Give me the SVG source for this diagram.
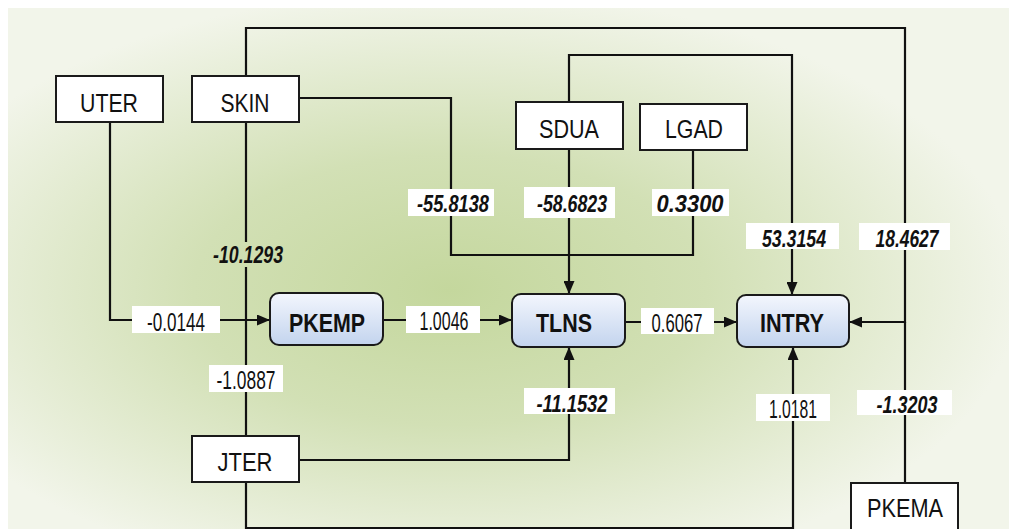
<svg xmlns="http://www.w3.org/2000/svg" width="1009" height="529" viewBox="0 0 1009 529">
<style>
.bx{fill:#fff;stroke:#1a1a1a;stroke-width:2}
.rn{fill:url(#ng);stroke:#1a1a1a;stroke-width:2}
.nt{font-family:"Liberation Sans",Arial,sans-serif;font-size:26px;fill:#111;text-anchor:middle}
.bt{font-family:"Liberation Sans",Arial,sans-serif;font-size:26px;font-weight:bold;fill:#111;text-anchor:middle}
.ln{fill:none;stroke:#111;stroke-width:2.2}
.lb{fill:#fff}
.pl{font-family:"Liberation Sans",Arial,sans-serif;font-size:25px;fill:#111;text-anchor:middle}
.il{font-family:"Liberation Sans",Arial,sans-serif;font-size:24px;font-weight:bold;font-style:italic;fill:#111;text-anchor:middle}
</style>
<defs>
<radialGradient id="bg" gradientUnits="userSpaceOnUse" cx="450" cy="290" r="300" gradientTransform="translate(450 290) scale(1.9 1) translate(-450 -290)">
<stop offset="0" stop-color="#c4d79d"/>
<stop offset="0.45" stop-color="#d2e0b5"/>
<stop offset="1" stop-color="#f2f5ea"/>
</radialGradient>
<linearGradient id="ng" x1="0" y1="0" x2="0" y2="1">
<stop offset="0" stop-color="#f3f6fd"/>
<stop offset="1" stop-color="#c3d4ee"/>
</linearGradient>
<marker id="ar" viewBox="0 0 13 11" refX="13" refY="5.5" markerWidth="13" markerHeight="11" markerUnits="userSpaceOnUse" orient="auto">
<path d="M0 0L13 5.5L0 11z" fill="#111"/>
</marker>
</defs>
<rect x="0" y="0" width="1009" height="529" fill="#fff"/>
<rect x="8" y="8" width="1001" height="521" fill="url(#bg)"/>
<g id="connectors">
<path class="ln" d="M246 76V28H905V322H849" marker-end="url(#ar)"/>
<path class="ln" d="M905 483V322"/>
<path class="ln" d="M569 102V55H792V295" marker-end="url(#ar)"/>
<path class="ln" d="M299 98H451V255H569"/>
<path class="ln" d="M693 150V255H569"/>
<path class="ln" d="M569 149V294" marker-end="url(#ar)"/>
<path class="ln" d="M110 122V320H270" marker-end="url(#ar)"/>
<path class="ln" d="M246 122V242M246 267V320"/>
<path class="ln" d="M246 436V320"/>
<path class="ln" d="M383 320H512" marker-end="url(#ar)"/>
<path class="ln" d="M625 322H737" marker-end="url(#ar)"/>
<path class="ln" d="M299 460H569V347" marker-end="url(#ar)"/>
<path class="ln" d="M246 482V528H793V347" marker-end="url(#ar)"/>
<g id="labels">
<rect class="lb" x="132" y="306" width="88" height="27"/>
<text class="pl" x="176" y="331" textLength="58" lengthAdjust="spacingAndGlyphs">-0.0144</text>
<rect class="lb" x="406" y="306" width="74" height="27"/>
<text class="pl" x="444" y="330" textLength="49" lengthAdjust="spacingAndGlyphs">1.0046</text>
<rect class="lb" x="641" y="308" width="73" height="26"/>
<text class="pl" x="677" y="332" textLength="51" lengthAdjust="spacingAndGlyphs">0.6067</text>
<rect class="lb" x="209" y="365" width="74" height="27"/>
<text class="pl" x="246" y="389" textLength="59" lengthAdjust="spacingAndGlyphs">-1.0887</text>
<rect class="lb" x="756" y="394" width="74" height="27"/>
<text class="pl" x="793" y="418" textLength="48" lengthAdjust="spacingAndGlyphs">1.0181</text>
<rect class="lb" x="408" y="189" width="86" height="27"/>
<text class="il" x="453" y="212" textLength="72" lengthAdjust="spacingAndGlyphs">-55.8138</text>
<rect class="lb" x="524" y="187" width="91" height="31"/>
<text class="il" x="572" y="212" textLength="70" lengthAdjust="spacingAndGlyphs">-58.6823</text>
<rect class="lb" x="652" y="189" width="77" height="27"/>
<text class="il" x="690" y="212" textLength="67" lengthAdjust="spacingAndGlyphs">0.3300</text>
<rect class="lb" x="746" y="223" width="93" height="26"/>
<text class="il" x="794" y="247" textLength="64" lengthAdjust="spacingAndGlyphs">53.3154</text>
<rect class="lb" x="859" y="223" width="91" height="27"/>
<text class="il" x="907" y="247" textLength="63" lengthAdjust="spacingAndGlyphs">18.4627</text>
<text class="il" x="248" y="263" textLength="70" lengthAdjust="spacingAndGlyphs">-10.1293</text>
<rect class="lb" x="524" y="388" width="91" height="26"/>
<text class="il" x="572" y="412" textLength="71" lengthAdjust="spacingAndGlyphs">-11.1532</text>
<rect class="lb" x="857" y="390" width="95" height="25"/>
<text class="il" x="907" y="413" textLength="61" lengthAdjust="spacingAndGlyphs">-1.3203</text>
</g>
</g>
<g id="UTER"><rect class="bx" x="56" y="76" width="107" height="46"/><text class="nt" x="109" y="112" textLength="58" lengthAdjust="spacingAndGlyphs">UTER</text></g>
<g id="SKIN"><rect class="bx" x="192" y="76" width="107" height="46"/><text class="nt" x="245" y="112" textLength="49" lengthAdjust="spacingAndGlyphs">SKIN</text></g>
<g id="SDUA"><rect class="bx" x="516" y="102" width="107" height="47"/><text class="nt" x="569" y="138" textLength="60" lengthAdjust="spacingAndGlyphs">SDUA</text></g>
<g id="LGAD"><rect class="bx" x="640" y="104" width="107" height="46"/><text class="nt" x="694" y="138" textLength="58" lengthAdjust="spacingAndGlyphs">LGAD</text></g>
<g id="JTER"><rect class="bx" x="192" y="436" width="107" height="46"/><text class="nt" x="245" y="471" textLength="55" lengthAdjust="spacingAndGlyphs">JTER</text></g>
<g id="PKEMA"><rect class="bx" x="851" y="483" width="107" height="48"/><text class="nt" x="905" y="517" textLength="76" lengthAdjust="spacingAndGlyphs">PKEMA</text></g>
<g id="PKEMP"><rect class="rn" x="270" y="293" width="113" height="52" rx="9"/><text class="bt" x="327" y="332" textLength="76" lengthAdjust="spacingAndGlyphs">PKEMP</text></g>
<g id="TLNS"><rect class="rn" x="512" y="294" width="113" height="53" rx="9"/><text class="bt" x="564" y="332" textLength="56" lengthAdjust="spacingAndGlyphs">TLNS</text></g>
<g id="INTRY"><rect class="rn" x="737" y="295" width="112" height="52" rx="9"/><text class="bt" x="792" y="332" textLength="64" lengthAdjust="spacingAndGlyphs">INTRY</text></g>
</svg>
